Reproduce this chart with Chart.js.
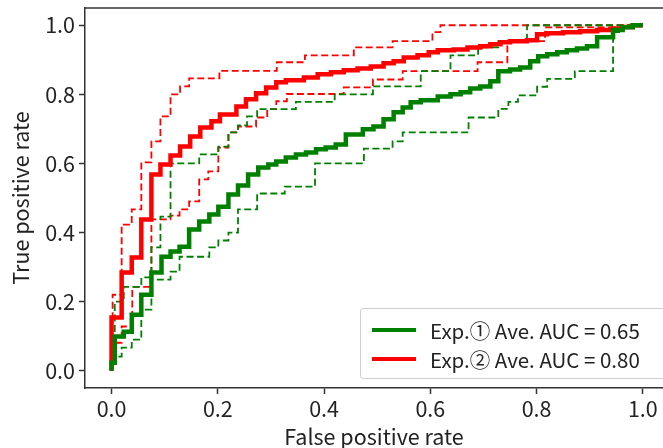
<!DOCTYPE html>
<html>
<head>
<meta charset="utf-8">
<script src="https://cdn.jsdelivr.net/npm/chart.js@4.4.1/dist/chart.umd.min.js"></script>
<style>
  body { margin: 0; background: #fff; }
  #wrap { position: relative; width: 663px; height: 448px; overflow: hidden; }
  #legend {
    position: absolute; left: 360px; top: 308px; width: 306px; height: 71px;
    border: 1.5px solid #cfcfcf; border-radius: 3px; background: rgba(255,255,255,0.85);
    font-family: "Noto Sans CJK JP", "Noto Sans", sans-serif; font-size: 20.5px; color: #222;
    box-sizing: border-box;
  }
  .row { position: absolute; left: 0; height: 28px; display: flex; align-items: center; }
  .swatch { display: inline-block; width: 44px; height: 4px; margin-left: 11px; margin-right: 14px; }
</style>
</head>
<body>
<div id="wrap">
  <canvas id="roc" width="663" height="448"></canvas>
  <div id="legend">
    <div class="row" style="top:7px"><span class="swatch" style="background:#008000"></span><span>Exp.① Ave. AUC = 0.65</span></div>
    <div class="row" style="top:36px"><span class="swatch" style="background:#ff0000"></span><span>Exp.② Ave. AUC = 0.80</span></div>
  </div>
</div>
<script>
// axis ticks
const tickValues = [0.0, 0.2, 0.4, 0.6, 0.8, 1.0]

// Exp.1 mean ROC (green solid)
const exp1Fpr = [0, 0.006, 0.023, 0.038, 0.056, 0.075, 0.094, 0.111, 0.128, 0.146, 0.165, 0.184, 0.201, 0.220, 0.238, 0.257, 0.276, 0.295, 0.310, 0.328, 0.347, 0.366, 0.385, 0.403, 0.422, 0.441, 0.473, 0.493, 0.512, 0.531, 0.548, 0.563, 0.582, 0.614, 0.638, 0.657, 0.675, 0.694, 0.713, 0.728, 0.750, 0.769, 0.788, 0.803, 0.820, 0.839, 0.857, 0.876, 0.895, 0.914, 0.944, 0.962, 0.981, 1.0]
const exp1Tpr = [0, 0.023, 0.099, 0.113, 0.162, 0.220, 0.284, 0.330, 0.345, 0.359, 0.409, 0.432, 0.452, 0.475, 0.510, 0.536, 0.568, 0.588, 0.597, 0.606, 0.617, 0.626, 0.632, 0.641, 0.646, 0.655, 0.684, 0.699, 0.707, 0.728, 0.748, 0.762, 0.777, 0.783, 0.794, 0.800, 0.806, 0.817, 0.823, 0.838, 0.867, 0.872, 0.878, 0.896, 0.910, 0.916, 0.922, 0.928, 0.933, 0.939, 0.965, 0.986, 0.994, 1.0]

// Exp.1 upper / lower (green dashed)
const exp1UpFpr = [0, 0.006, 0.023, 0.056, 0.075, 0.092, 0.111, 0.165, 0.201, 0.220, 0.238, 0.255, 0.274, 0.347, 0.420, 0.492, 0.582, 0.638, 0.690, 0.728, 0.782, 0.872, 1.0]
const exp1UpTpr = [0, 0.110, 0.200, 0.243, 0.270, 0.357, 0.446, 0.600, 0.626, 0.649, 0.690, 0.710, 0.736, 0.757, 0.778, 0.800, 0.823, 0.867, 0.913, 0.936, 0.954, 1.0, 1.0]
const exp1LowFpr = [0, 0.019, 0.038, 0.056, 0.075, 0.111, 0.128, 0.184, 0.201, 0.220, 0.238, 0.274, 0.326, 0.383, 0.475, 0.529, 0.548, 0.672, 0.728, 0.747, 0.765, 0.801, 0.820, 0.872, 0.944, 0.962, 0.983, 1.0]
const exp1LowTpr = [0, 0.041, 0.067, 0.090, 0.177, 0.264, 0.287, 0.330, 0.357, 0.377, 0.400, 0.467, 0.513, 0.533, 0.600, 0.643, 0.664, 0.690, 0.733, 0.758, 0.778, 0.797, 0.822, 0.845, 0.867, 0.980, 0.997, 1.0]

// Exp.2 mean ROC (red solid)
const exp2Fpr = [0, 0, 0.019, 0.038, 0.056, 0.075, 0.092, 0.111, 0.129, 0.148, 0.167, 0.188, 0.204, 0.235, 0.253, 0.272, 0.291, 0.310, 0.328, 0.362, 0.388, 0.413, 0.437, 0.463, 0.488, 0.512, 0.531, 0.550, 0.576, 0.597, 0.614, 0.644, 0.670, 0.694, 0.713, 0.732, 0.750, 0.782, 0.801, 0.820, 0.850, 0.882, 0.914, 0.944, 0.962, 0.981, 1.0]
const exp2Tpr = [0, 0.081, 0.154, 0.284, 0.328, 0.438, 0.568, 0.597, 0.623, 0.649, 0.678, 0.704, 0.722, 0.742, 0.765, 0.786, 0.803, 0.820, 0.835, 0.841, 0.849, 0.858, 0.864, 0.870, 0.875, 0.881, 0.890, 0.896, 0.907, 0.913, 0.922, 0.928, 0.930, 0.936, 0.939, 0.945, 0.951, 0.954, 0.957, 0.974, 0.977, 0.980, 0.983, 0.986, 0.991, 0.995, 1.0]

// Exp.2 upper / lower (red dashed)
const exp2UpFpr = [0, 0.002, 0.019, 0.038, 0.056, 0.075, 0.092, 0.111, 0.129, 0.146, 0.203, 0.311, 0.364, 0.456, 0.529, 0.604, 0.619, 0.801, 1.0]
const exp2UpTpr = [0, 0.154, 0.220, 0.423, 0.467, 0.603, 0.664, 0.736, 0.800, 0.823, 0.846, 0.868, 0.893, 0.913, 0.936, 0.954, 0.980, 1.0, 1.0]
const exp2LowFpr = [0, 0.019, 0.039, 0.075, 0.111, 0.128, 0.146, 0.165, 0.182, 0.201, 0.220, 0.238, 0.272, 0.293, 0.310, 0.330, 0.437, 0.492, 0.548, 0.689, 0.745, 0.816, 0.981, 1.0]
const exp2LowTpr = [0, 0.081, 0.128, 0.243, 0.438, 0.449, 0.467, 0.490, 0.554, 0.577, 0.646, 0.690, 0.707, 0.733, 0.757, 0.780, 0.801, 0.820, 0.843, 0.867, 0.893, 0.954, 0.994, 1.0]

const GREEN = '#008000'
const RED = '#ff0000'
const FONT = '"Noto Sans CJK JP", "Noto Sans", sans-serif'

function toPoints(xs, ys) {
    return xs.map((x, i) => ({ x: x, y: ys[i] }))
}

function makeSet(label, xs, ys, color, solid) {
    return {
        label: label,
        data: toPoints(xs, ys),
        borderColor: color,
        backgroundColor: color,
        borderWidth: solid ? 4.5 : 1.8,
        borderDash: solid ? [] : [7, 3.5],
        stepped: 'after',
        pointRadius: 0,
        fill: false,
        order: solid ? 0 : 1
    }
}

// top frame line (matplotlib box)
const frameTop = {
    id: 'frameTop',
    afterDraw(chart) {
        const { ctx, chartArea } = chart
        ctx.save()
        ctx.strokeStyle = '#333'
        ctx.lineWidth = 1.5
        ctx.beginPath()
        ctx.moveTo(chartArea.left, chartArea.top)
        ctx.lineTo(chartArea.right, chartArea.top)
        ctx.stroke()
        ctx.restore()
    }
}

const setTicks = (axis) => { axis.ticks = tickValues.map(v => ({ value: v })) }

const config = {
    type: 'line',
    data: {
        datasets: [
            makeSet('Exp.1 upper', exp1UpFpr, exp1UpTpr, GREEN, false),
            makeSet('Exp.1 lower', exp1LowFpr, exp1LowTpr, GREEN, false),
            makeSet('Exp.2 upper', exp2UpFpr, exp2UpTpr, RED, false),
            makeSet('Exp.2 lower', exp2LowFpr, exp2LowTpr, RED, false),
            makeSet('Exp.① Ave. AUC = 0.65', exp1Fpr, exp1Tpr, GREEN, true),
            makeSet('Exp.② Ave. AUC = 0.80', exp2Fpr, exp2Tpr, RED, true)
        ]
    },
    options: {
        responsive: false,
        animation: false,
        devicePixelRatio: 1,
        layout: { padding: { top: 8, right: 0, left: 0, bottom: 0 } },
        plugins: { legend: { display: false }, tooltip: { enabled: false } },
        scales: {
            x: {
                type: 'linear', min: -0.05, max: 1.038,
                afterBuildTicks: setTicks,
                afterFit: (s) => { s.height = 60; s.paddingLeft = 0; s.paddingRight = 0 },
                border: { display: true, color: '#333', width: 1.5 },
                grid: { display: true, drawOnChartArea: false, drawTicks: true, tickLength: 6, tickColor: '#333', tickWidth: 1.5 },
                ticks: { color: '#222', font: { family: FONT, size: 21.5 }, padding: 2, callback: v => v.toFixed(1), maxRotation: 0 },
                title: { display: true, text: 'False positive rate', color: '#222', font: { family: FONT, size: 21.5, lineHeight: 1.0 }, padding: { top: 0, bottom: 0 } }
            },
            y: {
                type: 'linear', min: -0.05, max: 1.05,
                afterBuildTicks: setTicks,
                afterFit: (s) => { s.width = 85; s.paddingTop = 0; s.paddingBottom = 0 },
                border: { display: true, color: '#333', width: 1.5 },
                grid: { display: true, drawOnChartArea: false, drawTicks: true, tickLength: 6, tickColor: '#333', tickWidth: 1.5 },
                ticks: { color: '#222', font: { family: FONT, size: 21.5 }, padding: 4, callback: v => v.toFixed(1) },
                title: { display: true, text: 'True positive rate', color: '#222', font: { family: FONT, size: 21.5, lineHeight: 1.2 }, padding: { top: 8, bottom: 0 } }
            }
        }
    },
    plugins: [frameTop]
}

new Chart(document.getElementById('roc').getContext('2d'), config)
</script>
</body>
</html>
